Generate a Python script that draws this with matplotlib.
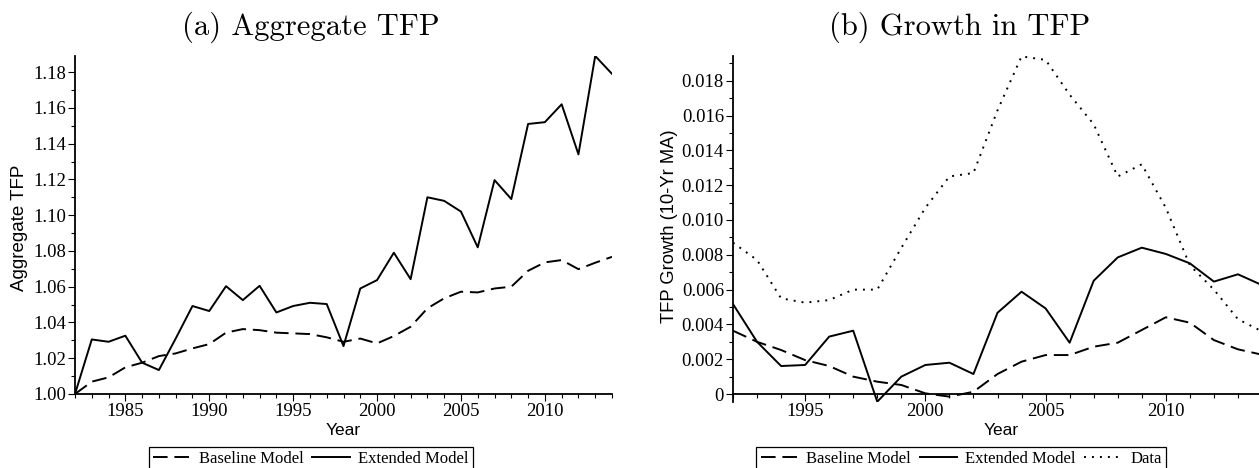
import matplotlib
matplotlib.use("Agg")
import matplotlib.pyplot as plt
from matplotlib.ticker import MultipleLocator, FuncFormatter

# panel (a): aggregate TFP, 1982-2014
years_a = list(range(1982, 2015))
baseline_tfp = [1.000, 1.0069, 1.0093, 1.0149, 1.0175, 1.0212, 1.0227, 1.0255, 1.0279,
                1.0343, 1.0363, 1.0357, 1.0343, 1.0339, 1.0335, 1.0317, 1.0292, 1.031,
                1.0283, 1.0324, 1.0376, 1.0479, 1.0535, 1.0572, 1.0568, 1.059, 1.060,
                1.0689, 1.0736, 1.0749, 1.0698, 1.0734, 1.0767]
extended_tfp = [1.000, 1.0305, 1.0292, 1.0326, 1.0175, 1.0134, 1.031, 1.0492, 1.0464,
                1.0603, 1.0525, 1.0605, 1.0456, 1.0492, 1.051, 1.0503, 1.0268, 1.059,
                1.0637, 1.079, 1.0642, 1.110, 1.108, 1.102, 1.082, 1.1196, 1.109,
                1.151, 1.152, 1.162, 1.134, 1.189, 1.179]

# panel (b): TFP growth, 10-year moving average, 1992-2014
years_b = list(range(1992, 2015))
baseline_growth = [0.00364, 0.0030, 0.00253, 0.00195, 0.00161, 0.0010, 0.00071, 0.00052,
                   0.00004, -0.00015, 0.00013, 0.00115, 0.00186, 0.00224, 0.00224,
                   0.00272, 0.00295, 0.00368, 0.00441, 0.0041, 0.0031, 0.00257, 0.00226]
extended_growth = [0.00517, 0.0030, 0.00161, 0.00167, 0.0033, 0.00364, -0.00044, 0.0010,
                   0.00167, 0.0018, 0.00115, 0.00467, 0.00588, 0.00492, 0.00295,
                   0.00651, 0.00785, 0.00841, 0.00805, 0.00751, 0.00646, 0.00688, 0.00626]
data_growth = [0.0087, 0.0077, 0.0055, 0.00525, 0.0054, 0.0060, 0.0060, 0.0084, 0.0107,
               0.0125, 0.0127, 0.0163, 0.0194, 0.0192, 0.0172, 0.0155, 0.0125, 0.0132,
               0.0107, 0.0074, 0.0060, 0.0043, 0.0036]

W, H = 1259, 468
fig = plt.figure(figsize=(W / 100, H / 100), dpi=100)

serif = "Liberation Serif"
sans = "Liberation Sans"
lw = 1.4
dash = (7.5, 3.5)
dots = (1.0, 3.1)


def px_axes(x0, x1, y_top, y_bot):
    return fig.add_axes([x0 / W, 1 - y_bot / H, (x1 - x0) / W, (y_bot - y_top) / H])


def style(ax):
    for s in ("top", "right"):
        ax.spines[s].set_visible(False)
    for s in ("left", "bottom"):
        ax.spines[s].set_linewidth(1.3)
    ax.tick_params(which="major", length=5, width=0.8, pad=1.5, direction="out",
                   labelsize=13.5, labelfontfamily=serif)
    ax.tick_params(which="minor", length=3, width=0.8, direction="out")


# ---- panel (a)
ax1 = px_axes(75, 612, 56, 394)
l1, = ax1.plot(years_a, baseline_tfp, color="black", lw=lw, dashes=dash)
l2, = ax1.plot(years_a, extended_tfp, color="black", lw=lw)
ax1.set_xlim(1982, 2014)
ax1.set_ylim(1.0, 1.189)
ax1.xaxis.set_major_locator(MultipleLocator(5))
ax1.xaxis.set_minor_locator(MultipleLocator(1))
ax1.yaxis.set_major_locator(MultipleLocator(0.02))
ax1.yaxis.set_minor_locator(MultipleLocator(0.01))
ax1.yaxis.set_major_formatter(FuncFormatter(lambda v, p: f"{v:.2f}"))
style(ax1)
ax1.set_xlabel("Year", fontsize=12.5, family=sans)
ax1.set_ylabel("Aggregate TFP", fontsize=13.5, family=sans)
ax1.xaxis.set_label_coords(0.5, (394 - 423) / 338)
ax1.yaxis.set_label_coords((28 - 75) / 537, (394 - 228) / 338)

# ---- panel (b)
ax2 = px_axes(733, 1262, 56.4, 401.7)
m1, = ax2.plot(years_b, baseline_growth, color="black", lw=lw, dashes=dash)
m2, = ax2.plot(years_b, extended_growth, color="black", lw=lw)
m3, = ax2.plot(years_b, data_growth, color="black", lw=lw, dashes=dots)
ax2.set_xlim(1992, 2014)
ax2.set_ylim(-0.00044, 0.0194)
ax2.spines["bottom"].set_position(("data", 0))
ax2.xaxis.set_major_locator(MultipleLocator(5))
ax2.xaxis.set_minor_locator(MultipleLocator(1))
ax2.yaxis.set_major_locator(MultipleLocator(0.002))
ax2.yaxis.set_minor_locator(MultipleLocator(0.001))
ax2.yaxis.set_major_formatter(FuncFormatter(lambda v, p: "0" if abs(v) < 1e-12 else f"{v:.3f}"))
style(ax2)
ax2.set_xlabel("Year", fontsize=12.5, family=sans)
ax2.set_ylabel("TFP Growth (10-Yr MA)", fontsize=13.2, family=sans)
ax2.xaxis.set_label_coords((1001 - 733) / 529, (401.7 - 423) / 345.3)
ax2.yaxis.set_label_coords((678 - 733) / 529, (401.7 - 226) / 345.3)

# titles
fig.text(311 / W, 1 - 35 / H, "(a) Aggregate TFP", family="cmr10", fontsize=22,
         ha="center", va="baseline")
fig.text(960 / W, 1 - 35 / H, "(b) Growth in TFP", family="cmr10", fontsize=22,
         ha="center", va="baseline")

# legends
leg_kw = dict(loc="upper center", ncol=3, frameon=True, fancybox=False,
              edgecolor="black", framealpha=1, borderpad=0.25, borderaxespad=0,
              handlelength=2.25, handletextpad=0.5, columnspacing=0.5,
              prop={"family": serif, "size": 12})
lg1 = fig.legend([l1, l2], ["Baseline Model", "Extended Model"],
                 bbox_to_anchor=(311 / W, 1 - 447 / H), **leg_kw)
lg2 = fig.legend([m1, m2, m3], ["Baseline Model", "Extended Model", "Data"],
                 bbox_to_anchor=(961 / W, 1 - 447 / H), **leg_kw)
for lg in (lg1, lg2):
    lg.get_frame().set_linewidth(0.9)

fig.savefig("out.png", dpi=100)
